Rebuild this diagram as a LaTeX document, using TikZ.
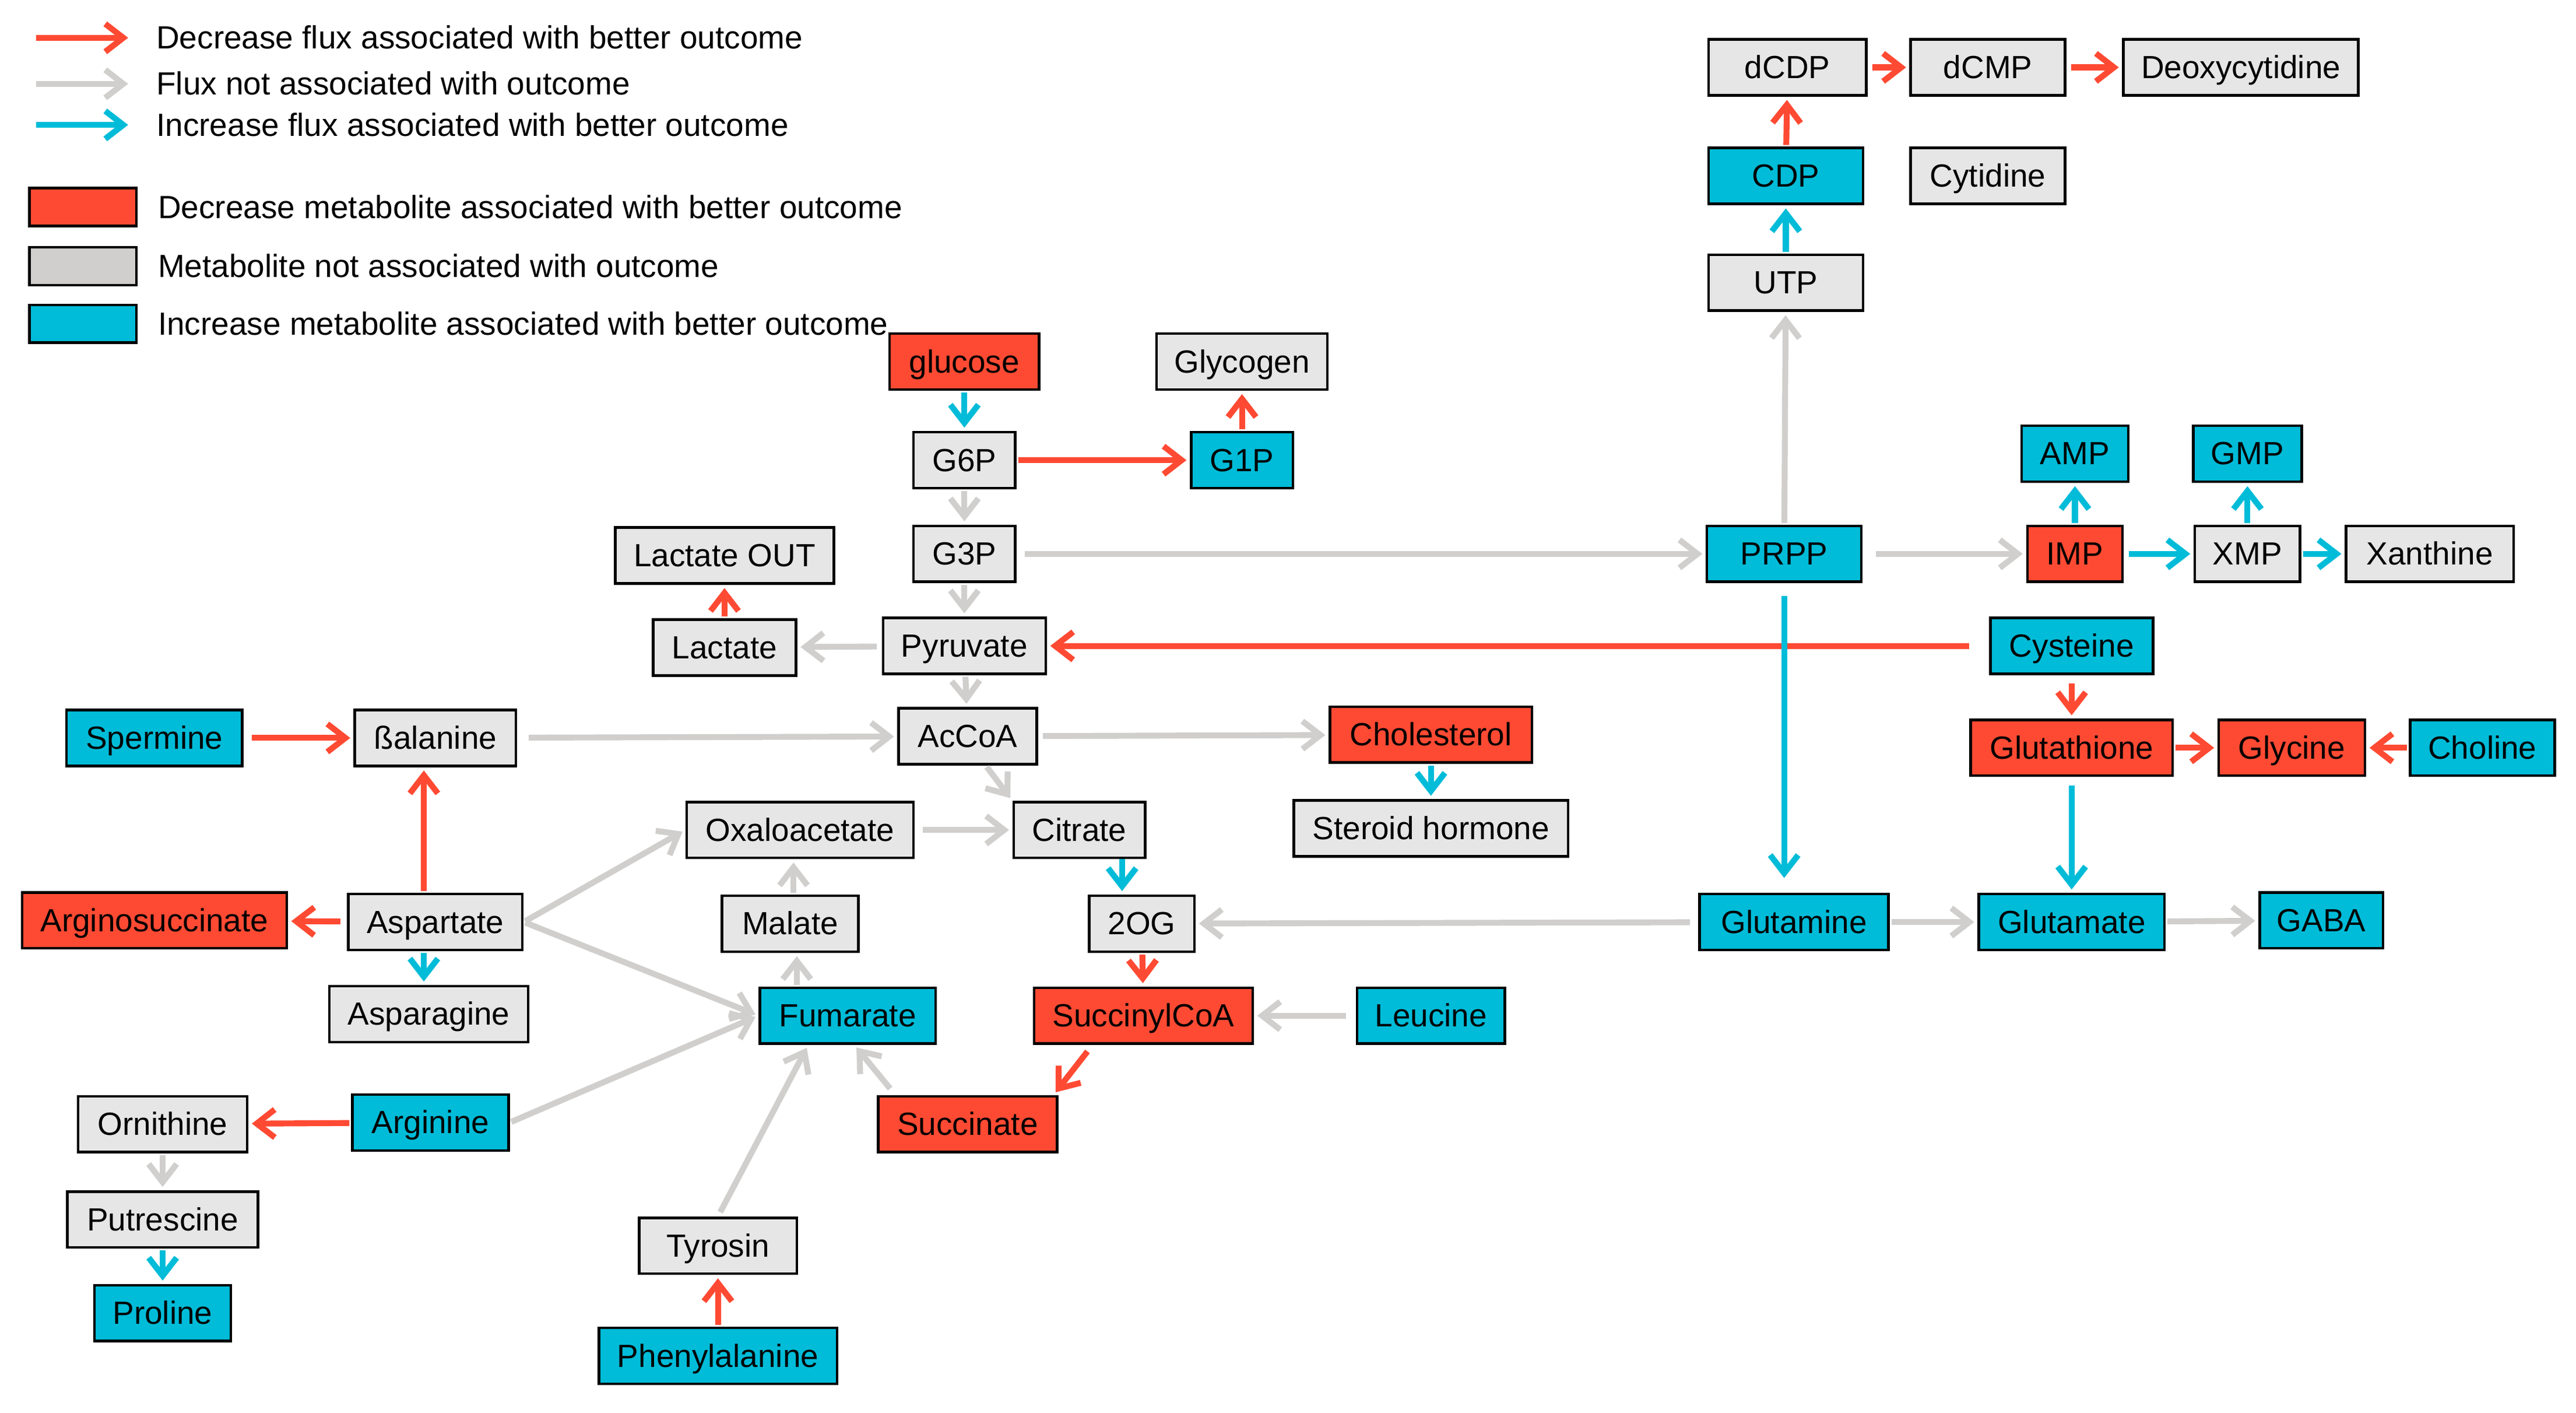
\documentclass[tikz,border=0pt]{standalone}
\usepackage{fontspec}
\setmainfont{Liberation Sans}
\usetikzlibrary{arrows.meta}
\definecolor{decred}{HTML}{FF4A33}
\definecolor{boxgray}{HTML}{E6E6E6}
\definecolor{fluxgray}{HTML}{D0CFCD}
\definecolor{incblue}{HTML}{00BCD8}
\tikzset{
  met/.style={draw,line width=1.6pt,minimum height=34pt,inner sep=0pt,text height=17.6pt,text depth=4.1pt,font=\fontsize{19.5}{22}\selectfont},
  legtext/.style={anchor=west,inner sep=0pt,text height=17.6pt,text depth=4.1pt,font=\fontsize{19.5}{22}\selectfont},
  flux/.style={line width=3.6pt,-{Straight Barb[length=11pt,width=17pt]},shorten <=1pt,shorten >=2pt},
  gap/.style={shorten <=#1},
  decflux/.style={flux,draw=decred},
  nullflux/.style={flux,draw=fluxgray},
  incflux/.style={flux,draw=incblue},
}
\begin{document}
\begin{tikzpicture}[x=1pt,y=-1pt]
  \useasboundingbox (0,0) rectangle (1568,859.4);

  % legend
  \foreach \y/\s/\t [count=\i] in {23/decflux/Decrease flux associated with better outcome,
      51/nullflux/Flux not associated with outcome,
      76/incflux/Increase flux associated with better outcome} {
    \coordinate (fl\i a) at (22,\y);
    \coordinate (fl\i b) at (78,\y);
    \draw[\s,shorten <=0pt,shorten >=0pt] (fl\i a) -- (fl\i b);
    \node[legtext] (flt\i) at (95,\y) {\t};
  }
  \foreach \y/\c/\t [count=\i] in {126/decred/Decrease metabolite associated with better outcome,
      162/fluxgray/Metabolite not associated with outcome,
      197/incblue/Increase metabolite associated with better outcome} {
    \node[met,fill=\c,minimum width=65,minimum height=23,text height=0pt,text depth=0pt] (mb\i) at (50.5,\y) {};
    \node[legtext] (mbt\i) at (96,\y) {\t};
  }

  % metabolites
  \foreach \nm/\x/\y/\w/\c/\t in {
      glucose/587/220/91/decred/glucose, Glycogen/756/220/104/boxgray/Glycogen,
      G6P/587/280/62/boxgray/G6P, G1P/756/280/62/incblue/G1P,
      G3P/587/337/62/boxgray/G3P, LactateOUT/441/338/133/boxgray/Lactate OUT,
      Lactate/441/394/87/boxgray/Lactate, Pyruvate/587/393/99/boxgray/Pyruvate,
      AcCoA/589/448/84/boxgray/AcCoA, Spermine/94/449/107/incblue/Spermine,
      balanine/265/449/98/boxgray/ßalanine, Cholesterol/871/447/123/decred/Cholesterol,
      Steroid/871/504/167/boxgray/Steroid hormone, Oxaloacetate/487/505/138/boxgray/Oxaloacetate,
      Citrate/657/505/80/boxgray/Citrate, Malate/481/562/83/boxgray/Malate,
      OG2/695/562/64/boxgray/2OG, Aspartate/265/561/106/boxgray/Aspartate,
      Arginosuccinate/94/560/161/decred/Arginosuccinate, Asparagine/261/617/121/boxgray/Asparagine,
      Fumarate/516/618/107/incblue/Fumarate, SuccinylCoA/696/618/133/decred/SuccinylCoA,
      Leucine/871/618/90/incblue/Leucine, Succinate/589/684/109/decred/Succinate,
      Arginine/262/683/95/incblue/Arginine, Ornithine/99/684/103/boxgray/Ornithine,
      Putrescine/99/742/116/boxgray/Putrescine, Proline/99/799/83/incblue/Proline,
      Tyrosin/437/758/96/boxgray/Tyrosin, Phenylalanine/437/825/145/incblue/Phenylalanine,
      dCDP/1088/41/96/boxgray/dCDP, dCMP/1210/41/94/boxgray/dCMP,
      Deoxycytidine/1364/41/143/boxgray/Deoxycytidine, CDP/1087/107/94/incblue/CDP,
      Cytidine/1210/107/94/boxgray/Cytidine, UTP/1087/172/94/boxgray/UTP,
      AMP/1263/276/65/incblue/AMP, GMP/1368/276/66/incblue/GMP,
      PRPP/1086/337/94/incblue/PRPP, IMP/1263/337/58/decred/IMP,
      XMP/1368/337/64/boxgray/XMP, Xanthine/1479/337/102/boxgray/Xanthine,
      Cysteine/1261/393/99/incblue/Cysteine, Glutathione/1261/455/123/decred/Glutathione,
      Glycine/1395/455/89/decred/Glycine, Choline/1511/455/88/incblue/Choline,
      Glutamine/1092/561/115/incblue/Glutamine, Glutamate/1261/561/113/incblue/Glutamate,
      GABA/1413/560/75/incblue/GABA} {
    \node[met,fill=\c,minimum width=\w] (\nm) at (\x,\y) {\t};
  }

  % glycolysis and TCA
  \draw[incflux] (glucose) -- (G6P);
  \draw[decflux] (G6P) -- (G1P);
  \draw[decflux] (G1P) -- (Glycogen);
  \draw[nullflux] (G6P) -- (G3P);
  \draw[nullflux] (G3P) -- (Pyruvate);
  \draw[nullflux,gap=5pt] (G3P) -- (PRPP);
  \draw[nullflux,gap=3pt] (Pyruvate) -- (Lactate);
  \draw[decflux] (Lactate) -- (LactateOUT);
  \draw[nullflux] (Pyruvate) -- (AcCoA);
  \draw[decflux,gap=12pt] (Cysteine) -- (Pyruvate);
  \draw[nullflux,gap=3pt] (AcCoA) -- (Cholesterol);
  \draw[incflux] (Cholesterol) -- (Steroid);
  \draw[nullflux] ([xshift=11pt]AcCoA.south) -- (Citrate.north west);
  \draw[nullflux,gap=5pt] (Oxaloacetate) -- (Citrate);
  \draw[incflux,gap=0pt] ([xshift=26pt]Citrate.south) -- ([xshift=26pt]Citrate.south |- OG2.north);
  \draw[decflux] (OG2) -- (SuccinylCoA);
  \draw[nullflux,gap=6pt] (Leucine) -- (SuccinylCoA);
  \draw[decflux,gap=5pt] ([xshift=-31pt]SuccinylCoA.south) -- ([xshift=-3pt]Succinate.north east);
  \draw[nullflux,gap=5pt] ([xshift=-44pt]Succinate.north) -- ([xshift=4pt]Fumarate.south);
  \draw[nullflux] ([xshift=4pt]Malate.south |- Fumarate.north) -- ([xshift=4pt]Malate.south);
  \draw[nullflux] ([xshift=2pt]Malate.north) -- ([xshift=2pt]Malate.north |- Oxaloacetate.south);
  \draw[nullflux,gap=3pt] (Tyrosin.north) -- ([xshift=-24pt]Fumarate.south);
  \draw[decflux] (Phenylalanine) -- (Tyrosin);

  % amino acids
  \draw[decflux,gap=5pt] (Spermine) -- (balanine);
  \draw[nullflux,gap=7pt] (balanine) -- (AcCoA);
  \draw[decflux] ([xshift=-7pt]Aspartate.north) -- ([xshift=-7pt]balanine.south);
  \draw[decflux,gap=4pt] (Aspartate) -- (Arginosuccinate);
  \draw[incflux] ([xshift=-7pt]Aspartate.south) -- ([xshift=-7pt]Aspartate.south |- Asparagine.north);
  \draw[nullflux] (Aspartate.east) -- (Oxaloacetate.west);
  \draw[nullflux] (Aspartate.east) -- (Fumarate.west);
  \draw[nullflux] (Arginine.east) -- (Fumarate.west);
  \draw[decflux] (Arginine) -- (Ornithine);
  \draw[nullflux] (Ornithine) -- (Putrescine);
  \draw[incflux] (Putrescine) -- (Proline);
  \draw[nullflux,gap=5pt] (Glutamine) -- (OG2);

  % nucleotides
  \draw[incflux,gap=8pt,shorten >=9pt] (PRPP.south) -- (PRPP.south |- Glutamine.north);
  \draw[nullflux] (PRPP) -- (UTP);
  \draw[incflux] (UTP) -- (CDP);
  \draw[decflux] (CDP) -- (dCDP);
  \draw[decflux,gap=3pt] (dCDP) -- (dCMP);
  \draw[decflux,gap=3pt] (dCMP) -- (Deoxycytidine);
  \draw[nullflux,gap=8pt] (PRPP) -- (IMP);
  \draw[incflux] (IMP) -- (AMP);
  \draw[incflux,gap=3pt] (IMP) -- (XMP);
  \draw[incflux] (XMP) -- (GMP);
  \draw[incflux] (XMP) -- (Xanthine);

  % glutathione
  \draw[decflux,gap=5pt] (Cysteine) -- (Glutathione);
  \draw[decflux] (Glutathione) -- (Glycine);
  \draw[decflux] (Choline) -- (Glycine);
  \draw[incflux,gap=5pt] (Glutathione) -- (Glutamate);
  \draw[nullflux] (Glutamine) -- (Glutamate);
  \draw[nullflux] (Glutamate) -- (GABA);
\end{tikzpicture}
\end{document}
